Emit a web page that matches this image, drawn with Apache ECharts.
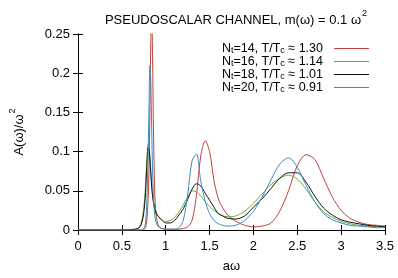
<!DOCTYPE html>
<html>
<head>
<meta charset="utf-8">
<script src="https://cdn.jsdelivr.net/npm/echarts@6/dist/echarts.min.js"></script>
<style>
  html, body { margin: 0; padding: 0; background: #fff; }
  #chart { width: 398px; height: 278px; }
</style>
</head>
<body>
<div id="chart"></div>
<script>
// a*omega sample points (shared by all four curves)
const aw = [0, 0.5, 0.65, 0.70, 0.72, 0.74, 0.76, 0.77, 0.78, 0.79, 0.80, 0.81, 0.82, 0.83, 0.84, 0.85,
  0.86, 0.87, 0.88, 0.90, 0.92, 0.95, 1.0, 1.05, 1.1, 1.15, 1.2, 1.25, 1.3, 1.35, 1.4, 1.45, 1.5, 1.55,
  1.6, 1.65, 1.7, 1.8, 1.9, 2.0, 2.1, 2.2, 2.3, 2.4, 2.5, 2.6, 2.7, 2.8, 2.9, 3.0, 3.1, 3.2, 3.3, 3.4, 3.5];

// A(omega)/omega^2
const nt14 = [0, 0, 0, 0, 0, 0, 0.001, 0.003, 0.008, 0.02, 0.04, 0.08, 0.15, 0.24, 0.28, 0.22,
  0.13, 0.07, 0.035, 0.012, 0.005, 0.002, 0.001, 0.001, 0.001, 0.001, 0.002, 0.004, 0.012, 0.044, 0.095, 0.114, 0.1, 0.063,
  0.04, 0.028, 0.02, 0.011, 0.006, 0.004, 0.005, 0.009, 0.024, 0.05, 0.082, 0.096, 0.09, 0.066, 0.042, 0.025, 0.015, 0.01, 0.007, 0.006, 0.005];
const nt16 = [0, 0, 0.001, 0.004, 0.009, 0.02, 0.04, 0.058, 0.08, 0.1, 0.11, 0.106, 0.093, 0.076, 0.06, 0.047,
  0.038, 0.032, 0.027, 0.021, 0.017, 0.014, 0.011, 0.012, 0.016, 0.023, 0.032, 0.042, 0.05, 0.049, 0.043, 0.036, 0.03, 0.025,
  0.021, 0.018, 0.017, 0.018, 0.024, 0.034, 0.046, 0.058, 0.066, 0.07, 0.065, 0.052, 0.036, 0.023, 0.016, 0.011, 0.008, 0.006, 0.005, 0.004, 0.004];
const nt18 = [0, 0, 0.001, 0.003, 0.007, 0.015, 0.032, 0.048, 0.07, 0.092, 0.105, 0.103, 0.09, 0.072, 0.055, 0.043,
  0.035, 0.029, 0.025, 0.019, 0.017, 0.013, 0.009, 0.009, 0.012, 0.019, 0.027, 0.039, 0.052, 0.059, 0.056, 0.047, 0.038, 0.029,
  0.021, 0.018, 0.015, 0.014, 0.018, 0.029, 0.04, 0.053, 0.066, 0.073, 0.073, 0.061, 0.043, 0.028, 0.019, 0.013, 0.01, 0.008, 0.006, 0.005, 0.004];
const nt20 = [0, 0, 0, 0, 0, 0.001, 0.004, 0.01, 0.025, 0.055, 0.1, 0.16, 0.21, 0.19, 0.13, 0.075,
  0.042, 0.025, 0.015, 0.007, 0.004, 0.002, 0.001, 0.001, 0.001, 0.003, 0.012, 0.045, 0.088, 0.097, 0.062, 0.037, 0.021, 0.012,
  0.008, 0.006, 0.005, 0.006, 0.012, 0.024, 0.042, 0.064, 0.084, 0.092, 0.08, 0.057, 0.036, 0.021, 0.013, 0.009, 0.006, 0.005, 0.004, 0.003, 0.003];

const curves = [
  { name: "14", ratio: "1.30", data: nt14, color: "#c0403c" },
  { name: "16", ratio: "1.14", data: nt16, color: "#6aaa40" },
  { name: "18", ratio: "1.01", data: nt18, color: "#111111" },
  { name: "20", ratio: "0.91", data: nt20, color: "#3a8cc4" },
];

const xTicks = { min: 0, max: 3.5, step: 0.5 };
const yTicks = { min: 0, max: 0.25, step: 0.05 };

const font = "Liberation Sans, Arial, sans-serif";
const chart = echarts.init(document.getElementById("chart"), null, { renderer: "canvas" });

const boxAxis = {
  type: "value",
  axisLine: { show: true, lineStyle: { color: "#000", width: 1 } },
  axisTick: { show: true, inside: true, length: 5, lineStyle: { color: "#000" } },
  splitLine: { show: false },
};

const supRich = {
  a: { fontFamily: font, fontSize: 13, fontWeight: "normal", color: "#000", lineHeight: 18, verticalAlign: "bottom" },
  s: { fontFamily: font, fontSize: 9, fontWeight: "normal", color: "#000", lineHeight: 18, verticalAlign: "top", padding: [0, 0, 0, 1] },
};

chart.setOption({
  animation: false,
  title: {
    text: "{a|PSEUDOSCALAR CHANNEL, m(ω) = 0.1 ω}{s|2}",
    left: 231, top: 4, textAlign: "center",
    textStyle: { fontWeight: "normal", rich: supRich },
  },
  grid: { left: 77, right: 13, top: 34, bottom: 43 },
  legend: {
    orient: "vertical", right: 24, top: 37, align: "right",
    itemWidth: 35, itemHeight: 1.2, itemGap: 0, icon: "rect",
    data: curves.map((c) => c.name),
    formatter: (name) => {
      const c = curves.find((d) => d.name === name);
      return `{n|N}{b|t}{n|=${c.name}, T/T}{b|c}{n| ≈ ${c.ratio}}{g| }`;
    },
    textStyle: {
      rich: {
        n: { fontFamily: font, fontSize: 12.5, color: "#000", lineHeight: 13 },
        b: { fontFamily: font, fontSize: 9, color: "#000", lineHeight: 7, verticalAlign: "bottom" },
        g: { width: 6, fontSize: 12.5, lineHeight: 13 },
      },
    },
  },
  xAxis: [
    Object.assign({}, boxAxis, {
      min: xTicks.min, max: xTicks.max, interval: xTicks.step, position: "bottom",
      axisLabel: { fontFamily: font, fontSize: 13, color: "#000", margin: 10 },
      name: "aω", nameLocation: "middle", nameGap: 30,
      nameTextStyle: { fontFamily: font, fontSize: 13, color: "#000" },
    }),
    Object.assign({}, boxAxis, {
      min: xTicks.min, max: xTicks.max, interval: xTicks.step, position: "top",
      axisLabel: { show: false },
    }),
  ],
  yAxis: [
    Object.assign({}, boxAxis, {
      min: yTicks.min, max: yTicks.max, interval: yTicks.step, position: "left",
      axisLabel: { fontFamily: font, fontSize: 13, color: "#000", margin: 8 },
      name: "{a|A(ω)/ω}{s|2}", nameLocation: "middle", nameGap: 52, nameRotate: 90,
      nameTextStyle: { rich: supRich },
    }),
    Object.assign({}, boxAxis, {
      min: yTicks.min, max: yTicks.max, interval: yTicks.step, position: "right",
      axisLabel: { show: false },
    }),
  ],
  series: curves.map((c) => ({
    name: c.name,
    type: "line",
    data: aw.map((x, i) => [x, c.data[i]]),
    showSymbol: false,
    smooth: 0.3,
    clip: true,
    color: c.color,
    lineStyle: { color: c.color, width: 1 },
  })),
});
</script>
</body>
</html>
